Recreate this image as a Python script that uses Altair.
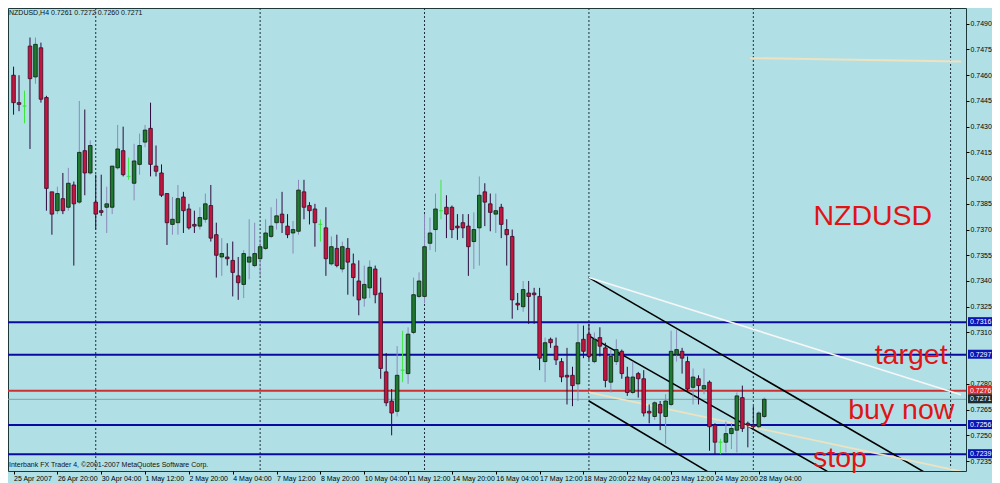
import altair as alt
import pandas as pd
import numpy as np

# ---------------- data ----------------
opens = [0.7460, 0.7444, 0.7442, 0.7477, 0.7459, 0.7476, 0.7447, 0.7392, 0.7381, 0.7388,
         0.7383, 0.7396, 0.7386, 0.7416, 0.7403, 0.7386, 0.7381, 0.7383, 0.7383, 0.7406,
         0.7416, 0.7401, 0.7397, 0.7408, 0.7421, 0.7429, 0.7407, 0.7403, 0.7391, 0.7373,
         0.7374, 0.7389, 0.7382, 0.7373, 0.7372, 0.7376, 0.7384, 0.7367, 0.7354, 0.7354,
         0.7352, 0.7343, 0.7338, 0.7351, 0.7349, 0.7353, 0.7359, 0.7366, 0.7374, 0.7379,
         0.7372, 0.7368, 0.7369, 0.7392, 0.7384, 0.7382, 0.7373, 0.7371, 0.7350, 0.7359,
         0.7347, 0.7359, 0.7350, 0.7340, 0.7330, 0.7336, 0.7347, 0.7333, 0.7287, 0.7270,
         0.7264, 0.7288, 0.7286, 0.7310, 0.7331, 0.7331, 0.7362, 0.7370, 0.7381, 0.7383,
         0.7383, 0.7372, 0.7374, 0.7372, 0.7363, 0.7371, 0.7392, 0.7385, 0.7379, 0.7383,
         0.7370, 0.7366, 0.7327, 0.7325, 0.7333, 0.7333, 0.7331, 0.7293, 0.7306, 0.7302,
         0.7293, 0.7285, 0.7285, 0.7280, 0.7306, 0.7309, 0.7293, 0.7307, 0.7301, 0.7281,
         0.7293, 0.7299, 0.7284, 0.7275, 0.7286, 0.7283, 0.7264, 0.7261, 0.7268, 0.7261,
         0.7268, 0.7297, 0.7299, 0.7293, 0.7278, 0.7283, 0.7277, 0.7281, 0.7256, 0.7246,
         0.7246, 0.7251, 0.7253, 0.7272, 0.7257, 0.7256, 0.7255, 0.7261]
highs = [0.7465, 0.7460, 0.7451, 0.7482, 0.7482, 0.7479, 0.7448, 0.7392, 0.7395, 0.7403,
         0.7406, 0.7398, 0.7445, 0.7440, 0.7422, 0.7402, 0.7402, 0.7395, 0.7407, 0.7431,
         0.7430, 0.7412, 0.7420, 0.7426, 0.7431, 0.7444, 0.7419, 0.7408, 0.7391, 0.7389,
         0.7396, 0.7392, 0.7385, 0.7381, 0.7383, 0.7391, 0.7396, 0.7374, 0.7365, 0.7362,
         0.7363, 0.7354, 0.7358, 0.7376, 0.7374, 0.7366, 0.7376, 0.7383, 0.7388, 0.7392,
         0.7379, 0.7375, 0.7399, 0.7399, 0.7386, 0.7385, 0.7376, 0.7383, 0.7366, 0.7367,
         0.7363, 0.7365, 0.7356, 0.7352, 0.7349, 0.7352, 0.7349, 0.7342, 0.7298, 0.7277,
         0.7302, 0.7311, 0.7313, 0.7342, 0.7345, 0.7379, 0.7377, 0.7391, 0.7399, 0.7390,
         0.7384, 0.7379, 0.7379, 0.7379, 0.7380, 0.7401, 0.7397, 0.7391, 0.7391, 0.7385,
         0.7376, 0.7370, 0.7333, 0.7340, 0.7340, 0.7336, 0.7336, 0.7307, 0.7307, 0.7307,
         0.7295, 0.7301, 0.7290, 0.7315, 0.7314, 0.7315, 0.7310, 0.7313, 0.7304, 0.7300,
         0.7306, 0.7300, 0.7290, 0.7293, 0.7287, 0.7288, 0.7268, 0.7270, 0.7270, 0.7274,
         0.7311, 0.7312, 0.7301, 0.7296, 0.7289, 0.7285, 0.7289, 0.7282, 0.7257, 0.7248,
         0.7258, 0.7257, 0.7275, 0.7279, 0.7258, 0.7267, 0.7264, 0.7272]
lows = [0.7437, 0.7439, 0.7432, 0.7417, 0.7455, 0.7444, 0.7381, 0.7367, 0.7379, 0.7379,
        0.7381, 0.7349, 0.7385, 0.7390, 0.7402, 0.7370, 0.7378, 0.7368, 0.7379, 0.7405,
        0.7401, 0.7399, 0.7387, 0.7402, 0.7418, 0.7401, 0.7401, 0.7389, 0.7361, 0.7367,
        0.7367, 0.7368, 0.7370, 0.7368, 0.7370, 0.7374, 0.7363, 0.7342, 0.7343, 0.7349,
        0.7331, 0.7329, 0.7330, 0.7341, 0.7348, 0.7343, 0.7358, 0.7365, 0.7370, 0.7368,
        0.7365, 0.7356, 0.7367, 0.7376, 0.7373, 0.7360, 0.7363, 0.7343, 0.7349, 0.7348,
        0.7345, 0.7332, 0.7331, 0.7320, 0.7325, 0.7330, 0.7327, 0.7283, 0.7267, 0.7250,
        0.7261, 0.7281, 0.7280, 0.7309, 0.7330, 0.7327, 0.7358, 0.7357, 0.7376, 0.7365,
        0.7365, 0.7364, 0.7365, 0.7343, 0.7347, 0.7349, 0.7372, 0.7369, 0.7368, 0.7365,
        0.7349, 0.7318, 0.7323, 0.7322, 0.7315, 0.7315, 0.7288, 0.7281, 0.7301, 0.7291,
        0.7281, 0.7268, 0.7267, 0.7270, 0.7295, 0.7294, 0.7292, 0.7296, 0.7278, 0.7275,
        0.7291, 0.7283, 0.7273, 0.7274, 0.7272, 0.7261, 0.7257, 0.7259, 0.7253, 0.7245,
        0.7267, 0.7293, 0.7286, 0.7276, 0.7268, 0.7268, 0.7274, 0.7241, 0.7239, 0.7239,
        0.7240, 0.7242, 0.7240, 0.7252, 0.7243, 0.7253, 0.7254, 0.7260]
closes = [0.7444, 0.7443, 0.7442, 0.7458, 0.7478, 0.7446, 0.7394, 0.7379, 0.7391, 0.7381,
          0.7397, 0.7385, 0.7415, 0.7403, 0.7419, 0.7379, 0.7380, 0.7385, 0.7407, 0.7417,
          0.7402, 0.7401, 0.7410, 0.7419, 0.7428, 0.7408, 0.7404, 0.7390, 0.7374, 0.7376,
          0.7388, 0.7381, 0.7371, 0.7372, 0.7377, 0.7385, 0.7365, 0.7355, 0.7356, 0.7353,
          0.7345, 0.7339, 0.7356, 0.7354, 0.7356, 0.7360, 0.7368, 0.7372, 0.7378, 0.7374,
          0.7367, 0.7370, 0.7393, 0.7383, 0.7381, 0.7374, 0.7373, 0.7353, 0.7360, 0.7349,
          0.7360, 0.7351, 0.7342, 0.7329, 0.7338, 0.7348, 0.7332, 0.7289, 0.7269, 0.7263,
          0.7285, 0.7288, 0.7309, 0.7332, 0.7340, 0.7360, 0.7368, 0.7382, 0.7381, 0.7379,
          0.7370, 0.7371, 0.7371, 0.7360, 0.7370, 0.7390, 0.7386, 0.7380, 0.7381, 0.7373,
          0.7367, 0.7329, 0.7326, 0.7335, 0.7331, 0.7332, 0.7295, 0.7304, 0.7304, 0.7294,
          0.7284, 0.7284, 0.7279, 0.7304, 0.7299, 0.7296, 0.7306, 0.7302, 0.7282, 0.7296,
          0.7300, 0.7286, 0.7275, 0.7284, 0.7283, 0.7263, 0.7263, 0.7269, 0.7263, 0.7270,
          0.7299, 0.7300, 0.7295, 0.7277, 0.7284, 0.7279, 0.7279, 0.7255, 0.7246, 0.7246,
          0.7251, 0.7254, 0.7273, 0.7254, 0.7256, 0.7255, 0.7263, 0.7271]

x_label_bars = [0, 8, 16, 24, 32, 40, 48, 56, 64, 72, 80, 88, 96, 104, 112, 120, 128, 136]
x_labels = ["25 Apr 2007", "26 Apr 20:00", "30 Apr 04:00", "1 May 12:00", "2 May 20:00",
            "4 May 04:00", "7 May 12:00", "8 May 20:00", "10 May 04:00", "11 May 12:00",
            "14 May 20:00", "16 May 04:00", "17 May 12:00", "18 May 20:00", "22 May 04:00",
            "23 May 12:00", "24 May 20:00", "28 May 04:00"]

price_ticks = [0.7490, 0.7475, 0.7460, 0.7445, 0.7430, 0.7415, 0.7400, 0.7385, 0.7370,
               0.7355, 0.7340, 0.7325, 0.7310, 0.7280, 0.7265, 0.7250, 0.7235]

week_separators = [15, 45, 75, 105, 135, 171]

blue_levels = [0.7316, 0.7297, 0.7256, 0.7239]
entry_level = [0.7276]
bid_level = [0.7271]

black_names = ["upper", "upper", "middle", "middle", "lower", "lower"]
black_bars = [105, 166.5, 105, 148.5, 105, 126.6]
black_prices = [0.7342, 0.7228, 0.7308, 0.7229, 0.7270, 0.7229]

white_bars = [105, 172.9]
white_prices = [0.7342, 0.72737]

beige_names = ["low", "low", "top", "top"]
beige_bars = [105, 172.9, 134.4, 172.9]
beige_prices = [0.7275, 0.7229, 0.7470, 0.7468]

note_texts = ["NZDUSD", "target", "buy now", "stop"]
note_bars = [156.8, 163.8, 162.0, 150.8]
note_prices = [0.7378, 0.7297, 0.7265, 0.7237]

title_text = "NZDUSD,H4  0.7261 0.7272 0.7260 0.7271"
copyright_text = "Interbank FX Trader 4, \u00a92001-2007 MetaQuotes Software Corp."

# ---------------- frames ----------------
df = pd.DataFrame({"bar": np.arange(len(opens)), "open": opens, "high": highs,
                   "low": lows, "close": closes})
df["dir"] = np.where(df["close"] > df["open"], "up",
                     np.where(df["close"] < df["open"], "down", "doji"))

sep_df = pd.DataFrame({"bar": week_separators})
blue_df = pd.DataFrame({"price": blue_levels})
entry_df = pd.DataFrame({"price": entry_level})
bid_df = pd.DataFrame({"price": bid_level})
black_df = pd.DataFrame({"name": black_names, "bar": black_bars, "price": black_prices})
white_df = pd.DataFrame({"bar": white_bars, "price": white_prices})
beige_df = pd.DataFrame({"name": beige_names, "bar": beige_bars, "price": beige_prices})


def box_frame(levels):
    f = pd.DataFrame({"price": levels})
    f["label"] = f["price"].map(lambda p: f"{p:.4f}")
    return f


W, H = 958, 463
BG = "#b0e0e6"
FONT = "Liberation Sans"

xs = alt.Scale(domain=[-0.1, 172.9], nice=False, zero=False)
ys = alt.Scale(domain=[0.72292, 0.74992], nice=False, zero=False)

label_array = "[" + ",".join("'" + s + "'" for s in x_labels) + "]"
x_axis = alt.Axis(values=x_label_bars, labelExpr=label_array + "[round(datum.value/8)]",
                  orient="bottom", title=None, grid=False, domain=False, tickSize=3,
                  tickColor="#000000", labelAlign="left", labelBaseline="top",
                  labelPadding=0, labelFont=FONT, labelFontSize=7, labelColor="#000000",
                  labelFlush=False, labelOverlap=False, labelBound=False)
y_axis = alt.Axis(values=price_ticks, format=".4f", orient="right", title=None, grid=False,
                  domain=False, tickSize=3, tickColor="#000000", labelPadding=1,
                  labelFont=FONT, labelFontSize=7, labelColor="#000000",
                  labelOverlap=False, labelFlush=False, labelBound=False)


def X(field):
    return alt.X(field, type="quantitative", scale=xs, axis=x_axis)


def Y(field):
    return alt.Y(field, type="quantitative", scale=ys, axis=y_axis)


separators = alt.Chart(sep_df).mark_rule(color="#1e2e3a", strokeWidth=1,
                                         strokeDash=[2, 2]).encode(x=X("bar"))

blue_rules = alt.Chart(blue_df).mark_rule(color="#0a0aa0", strokeWidth=2).encode(y=Y("price"))
entry_rule = alt.Chart(entry_df).mark_rule(color="#cc3030", strokeWidth=2).encode(y=Y("price"))
bid_rule = alt.Chart(bid_df).mark_rule(color="#8a9ea4", strokeWidth=1).encode(y=Y("price"))

black_lines = alt.Chart(black_df).mark_line(color="#000000", strokeWidth=1.6, clip=True).encode(
    x=X("bar"), y=Y("price"), detail="name:N")
white_line = alt.Chart(white_df).mark_line(color="#f6f6f6", strokeWidth=1.6, clip=True).encode(
    x=X("bar"), y=Y("price"))
beige_lines = alt.Chart(beige_df).mark_line(color="#eee2c0", strokeWidth=1.8, clip=True).encode(
    x=X("bar"), y=Y("price"), detail="name:N")

candle_style = {
    "up": {"wick": "#8a8ab8", "fill": "#1e7a30", "stroke": "#0c1c0c"},
    "down": {"wick": "#2c0a3c", "fill": "#c2163e", "stroke": "#3a0a2a"},
    "doji": {"wick": "#3ce63c", "fill": "#3ce63c", "stroke": "#3ce63c"},
}
candles = []
for d, st in candle_style.items():
    base = alt.Chart(df).transform_filter(alt.datum.dir == d)
    candles.append(base.mark_rule(color=st["wick"], strokeWidth=1, clip=True).encode(
        x=X("bar"), y=Y("low"), y2="high"))
for d, st in candle_style.items():
    base = alt.Chart(df).transform_filter(alt.datum.dir == d)
    candles.append(base.mark_bar(size=3.6, strokeWidth=0.8, fill=st["fill"],
                                 stroke=st["stroke"], clip=True).encode(
        x=X("bar"), y=Y("open"), y2="close"))

notes = []
for t, b, p in zip(note_texts, note_bars, note_prices):
    nd = pd.DataFrame({"bar": [b], "price": [p], "note": [t]})
    notes.append(alt.Chart(nd).mark_text(font=FONT, fontSize=28.5, color="#e01414",
                                         align="center", baseline="middle").encode(
        x=X("bar"), y=Y("price"), text="note:N"))

boxes = []
for levels, col in [(blue_levels, "#0c14b4"), (entry_level, "#e02a2a"), (bid_level, "#1c2c2c")]:
    bf = box_frame(levels)
    boxes.append(alt.Chart(bf).mark_rect(yOffset=-5, y2Offset=4, color=col).encode(
        x=alt.value(W + 2), x2=alt.value(W + 26), y=Y("price"), y2="price"))
    boxes.append(alt.Chart(bf).mark_text(font=FONT, fontSize=7, color="#ffffff", align="left",
                                         baseline="middle").encode(
        x=alt.value(W + 4), y=Y("price"), text="label:N"))

title = alt.Chart(pd.DataFrame({"t": [title_text]})).mark_text(
    font=FONT, fontSize=7, color="#101010", align="left", baseline="middle").encode(
    x=alt.value(1), y=alt.value(5), text="t:N")
copyright_ = alt.Chart(pd.DataFrame({"t": [copyright_text]})).mark_text(
    font=FONT, fontSize=7, color="#101010", align="left", baseline="middle").encode(
    x=alt.value(1), y=alt.value(457), text="t:N")

chart = alt.layer(
    separators, blue_rules, entry_rule, bid_rule, black_lines, white_line, beige_lines,
    *candles, *notes, *boxes, title, copyright_
).properties(
    width=W, height=H,
    autosize=alt.AutoSizeParams(type="none"),
    padding={"left": 0, "top": 0, "right": 26, "bottom": 12},
    background=BG,
).configure_view(
    fill=BG, stroke="#1c3838", strokeWidth=1
)

chart.save("out.html", embed_options={"renderer": "svg", "actions": False})
